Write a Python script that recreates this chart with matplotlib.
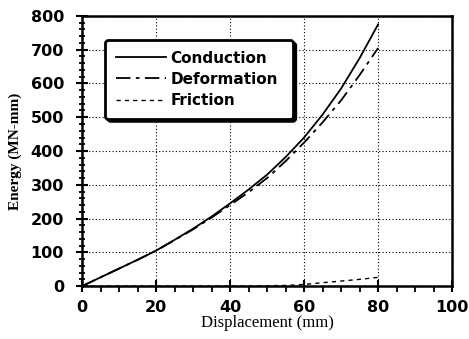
import matplotlib
matplotlib.use("Agg")
import matplotlib.pyplot as plt
from matplotlib.ticker import MultipleLocator

disp = [0, 5, 10, 15, 20, 25, 30, 35, 40, 45, 50, 55, 60, 65, 70, 75, 80]
conduction = [0, 26, 52, 78, 105, 137, 170, 206, 245, 286, 330, 382, 440, 508, 585, 675, 775]
deformation = [0, 26, 52, 78, 105, 136, 168, 203, 240, 278, 320, 370, 425, 485, 550, 625, 705]
friction = [0, 0, 0, 0, 0, 0, 0, 0, 0, 0, 1, 2, 5, 10, 15, 20, 26]

xticks = [0, 20, 40, 60, 80, 100]
yticks = [0, 100, 200, 300, 400, 500, 600, 700, 800]

fig = plt.figure(figsize=(4.69, 3.39), dpi=100)
ax = fig.add_axes([0.175, 0.156, 0.789, 0.797])

ax.plot(disp, conduction, color="black", lw=1.3, label="Conduction")
ax.plot(disp, deformation, color="black", lw=1.3, dashes=(8, 3, 2, 3), label="Deformation")
ax.plot(disp, friction, color="black", lw=1.0, dashes=(3, 3), label="Friction")

ax.set_xlim(0, 100)
ax.set_ylim(0, 800)
ax.set_xticks(xticks)
ax.set_yticks(yticks)
ax.xaxis.set_minor_locator(MultipleLocator(5))
ax.yaxis.set_minor_locator(MultipleLocator(20))
ax.tick_params(axis="x", which="major", direction="inout", length=8, width=1.5, pad=6)
ax.tick_params(axis="x", which="minor", direction="out", length=4, width=1.3)
ax.tick_params(axis="y", which="major", direction="inout", length=8, width=1.5, pad=9)
ax.tick_params(axis="y", which="minor", direction="inout", length=5, width=1.3)
ax.tick_params(top=False, right=False)
for lab in ax.get_xticklabels() + ax.get_yticklabels():
    lab.set_fontfamily("DejaVu Sans")
    lab.set_fontweight("bold")
    lab.set_fontsize(11.5)

ax.grid(True, which="major", color="black", lw=0.8, linestyle=(0, (1, 2)))
for s in ax.spines.values():
    s.set_linewidth(1.8)

ax.set_xlabel("Displacement (mm)", fontfamily="Liberation Serif", fontsize=12, labelpad=0)
ax.set_ylabel("Energy (MN-mm)", fontfamily="Liberation Serif", fontweight="bold", fontsize=11, labelpad=6)

leg = ax.legend(loc="upper left", bbox_to_anchor=(0.062, 0.611, 0.508, 0.30), mode="expand",
                frameon=True, fancybox=True,
                shadow={"color": "black", "alpha": 1.0},
                prop={"family": "DejaVu Sans", "weight": "bold", "size": 11},
                handlelength=3.3, handletextpad=0.3, labelspacing=0.4, borderpad=0.7,
                borderaxespad=0)
leg.get_frame().set_edgecolor("black")
leg.get_frame().set_linewidth(2)
leg.get_frame().set_alpha(1)

fig.savefig("out.png", dpi=100)
